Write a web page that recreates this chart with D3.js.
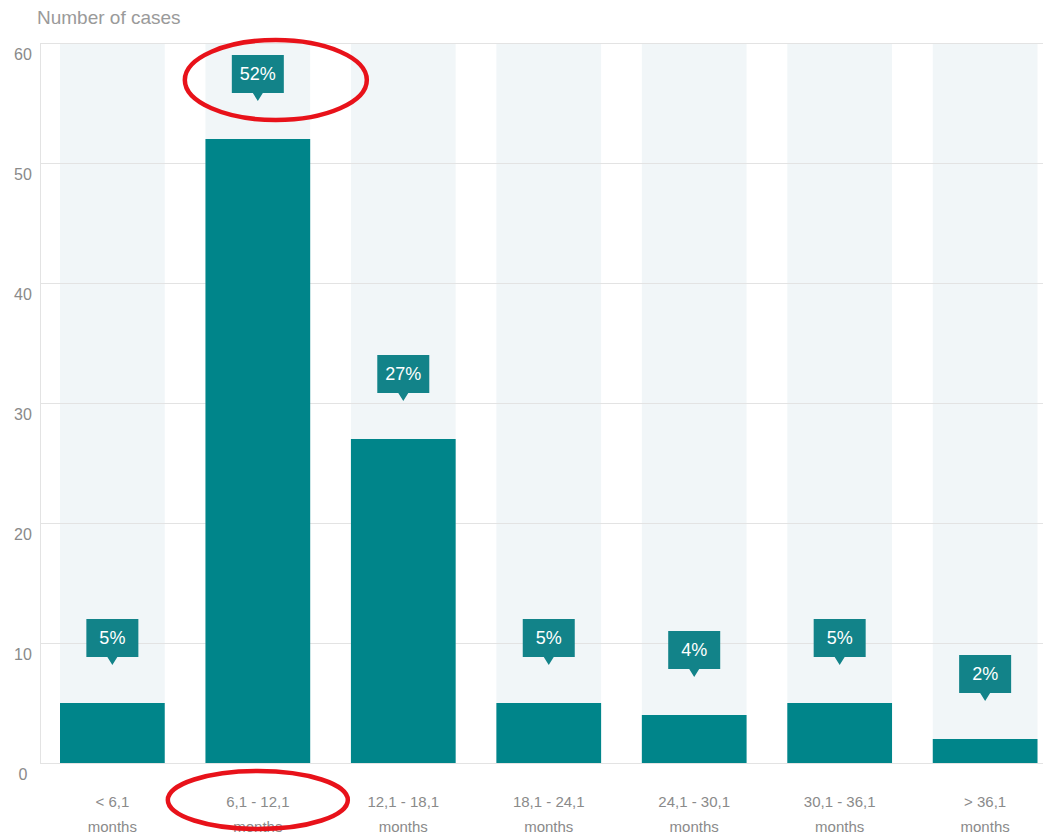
<!DOCTYPE html>
<html><head><meta charset="utf-8">
<script src="https://cdn.jsdelivr.net/npm/d3@7"></script>
<style>
html,body{margin:0;padding:0;background:#fff;}
svg{display:block;font-family:"Liberation Sans",Arial,sans-serif;}
</style></head>
<body>
<svg id="chart" width="1043" height="836"></svg>
<script>
const categories = ["< 6,1|months","6,1 - 12,1|months","12,1 - 18,1|months","18,1 - 24,1|months","24,1 - 30,1|months","30,1 - 36,1|months","> 36,1|months"];
const cases = [5, 52, 27, 5, 4, 5, 2];
const percentLabels = ["5%","52%","27%","5%","4%","5%","2%"];
const yTicks = [0,10,20,30,40,50,60];
const yTitle = "Number of cases";
const highlighted = "6,1 - 12,1|months";

const svg = d3.select("#chart");
const W = 1043, H = 836;
const plotLeft = 40, plotTop = 43, plotBottom = 763;

const x = d3.scaleBand().domain(categories).range([60, 1037.5]).paddingInner(0.28).paddingOuter(0);
const y = d3.scaleLinear().domain([0, 60]).range([plotBottom, plotTop]);

// background bands
svg.append("g").selectAll("rect").data(categories).join("rect")
  .attr("x", d => x(d)).attr("width", x.bandwidth())
  .attr("y", y(60)).attr("height", y(0) - y(60))
  .attr("fill", "#f1f6f8");

// gridlines
const yAxis = d3.axisLeft(y).tickValues(yTicks).tickSize(-(W - plotLeft)).tickPadding(0);
const gy = svg.append("g").attr("transform", `translate(${plotLeft},0)`).call(yAxis);
gy.select(".domain").attr("stroke", "#e3e3e3");
gy.selectAll(".tick line").attr("stroke", "#e3e3e3");
gy.selectAll(".tick text")
  .attr("x", -17).attr("dy", "1.05em").attr("text-anchor", "middle")
  .attr("fill", "#8a8a8a").style("font-size", "16px");

// bars
svg.append("g").selectAll("rect").data(categories).join("rect")
  .attr("x", d => x(d)).attr("width", x.bandwidth())
  .attr("y", (d,i) => y(cases[i])).attr("height", (d,i) => y(0) - y(cases[i]))
  .attr("fill", "#00858a");

// percent callouts
const bw = 52, bh = 38, tip = 8, gap = 46;
const lbl = svg.append("g").selectAll("g").data(categories).join("g")
  .attr("transform", (d,i) => `translate(${x(d) + x.bandwidth()/2},${y(cases[i]) - gap})`);
lbl.append("path")
  .attr("d", `M${-bw/2},${-bh} H${bw/2} V0 H5 L0,${tip} L-5,0 H${-bw/2} Z`)
  .attr("fill", "#128389");
lbl.append("text")
  .attr("y", -bh/2).attr("dy", "0.36em").attr("text-anchor", "middle")
  .attr("fill", "#fff").style("font-size", "18px")
  .text((d,i) => percentLabels[i]);

// x labels
const xl = svg.append("g").selectAll("text").data(categories).join("text")
  .attr("x", d => x(d) + x.bandwidth()/2).attr("y", 807)
  .attr("text-anchor", "middle").attr("fill", "#8a8a8a").style("font-size", "15px");
xl.each(function(d){
  const parts = d.split("|");
  const t = d3.select(this);
  t.append("tspan").attr("x", x(d) + x.bandwidth()/2).text(parts[0]);
  t.append("tspan").attr("x", x(d) + x.bandwidth()/2).attr("dy", 25).text(parts[1]);
});

// title
svg.append("text").attr("x", 37).attr("y", 24).attr("fill", "#9a9a9a")
  .style("font-size", "19px").text(yTitle);

// red annotation ellipses
const hi = categories.indexOf(highlighted);
const cx = x(highlighted) + x.bandwidth()/2;
svg.append("ellipse").attr("cx", cx + 18).attr("cy", y(cases[hi]) - gap - bh/2 + 6)
  .attr("rx", 91).attr("ry", 40).attr("fill", "none").attr("stroke", "#e8121a").attr("stroke-width", 4.5);
svg.append("ellipse").attr("cx", cx).attr("cy", 800)
  .attr("rx", 90).attr("ry", 29).attr("fill", "none").attr("stroke", "#e8121a").attr("stroke-width", 4.5);
</script>
</body></html>
